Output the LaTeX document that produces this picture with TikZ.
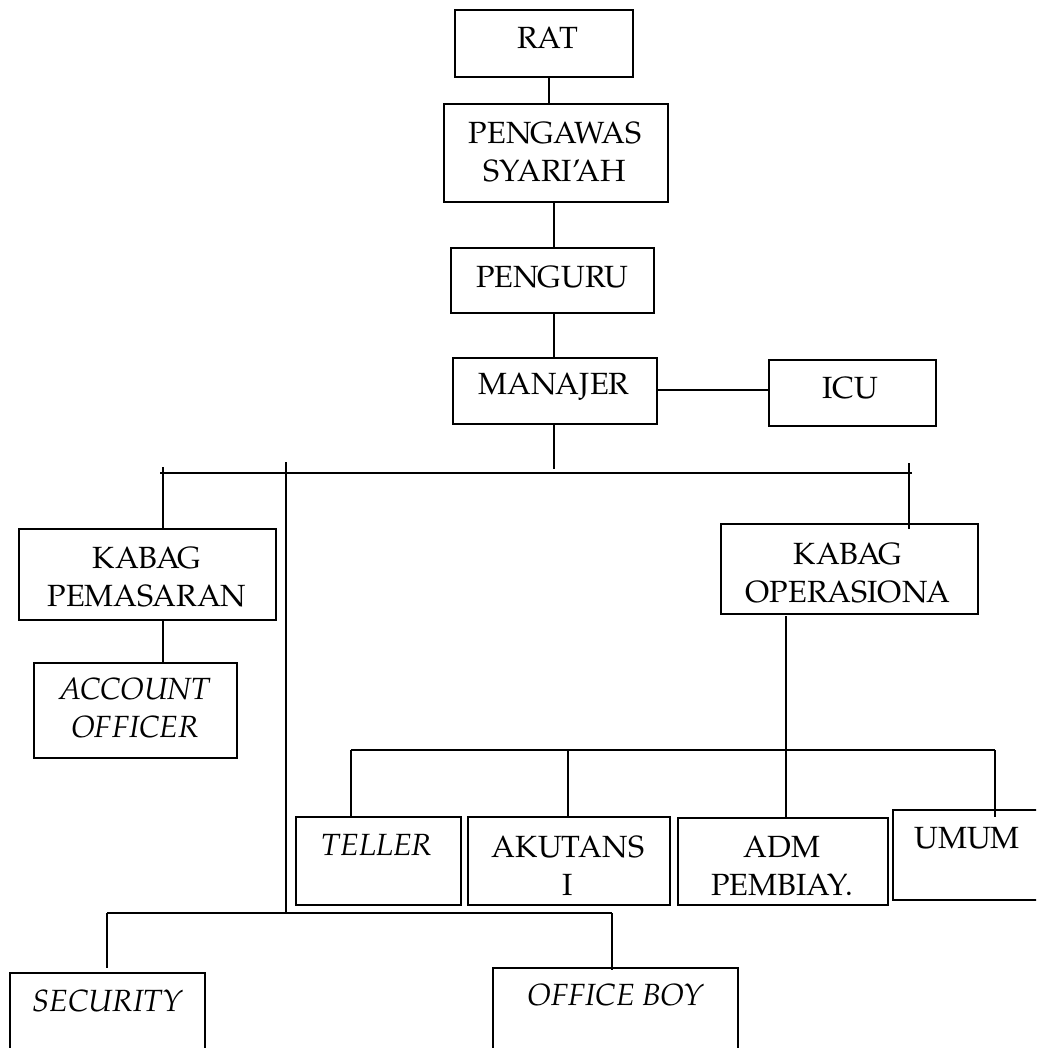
\documentclass[tikz,border=0pt]{standalone}
\usepackage{fontspec}
\setmainfont{TeX Gyre Pagella}
\begin{document}
\begin{tikzpicture}[x=0.75pt,y=-0.75pt,
  boxst/.style={draw=black, line width=1.3pt, inner sep=0pt, rectangle},
  txt/.style={font=\fontsize{23}{28.5}\selectfont, align=center, inner sep=0pt},
  itxt/.style={txt, font=\fontsize{23}{28.5}\selectfont\itshape},
  conn/.style={draw=black, line width=1.3pt}]
\useasboundingbox (0,0) rectangle (1036,1048);
\clip (0,0) rectangle (1036,1048);
\newcommand\bx[5]{\node[boxst, anchor=north west, minimum width={(#4-#2)*0.75pt}, minimum height={(#5-#3)*0.75pt}] (#1) at (#2,#3) {};}
% boxes
\bx{rat}{454}{9}{632}{76}
\bx{pengawas}{443}{103}{667}{201}
\bx{penguru}{450}{247}{653}{312}
\bx{manajer}{452}{357}{656}{423}
\bx{icu}{768}{359}{935}{425}
\bx{kpem}{18}{528}{275}{619}
\bx{ao}{33}{662}{236}{757}
\bx{kop}{720}{523}{977}{613}
\bx{teller}{295}{816}{460}{904}
\bx{akt}{467}{816}{669}{904}
\bx{adm}{677}{817}{887}{904}
\bx{umum}{892}{809}{1045}{899}
\bx{sec}{9}{972}{204}{1060}
\bx{ob}{492}{967}{737}{1060}
% texts
\node[txt] (trat) at (548,38) {RAT};
\node[txt] (tpengawas) at (555,152) {PENGAWAS\\SYARI’AH};
\node[txt] (tpenguru) at (552,277) {PENGURU};
\node[txt] (tmanajer) at (554,387) {MANAJER};
\node[txt] (ticu) at (850,388) {ICU};
\node[txt] (tkpem) at (147,577) {KABAG\\PEMASARAN};
\node[itxt] (tao) at (135,708) {ACCOUNT\\OFFICER};
\node[txt] (tkop) at (848,573) {KABAG\\OPERASIONA};
\node[itxt] (tteller) at (377,845) {TELLER};
\node[txt] (takt) at (568,866) {AKUTANS\\I};
\node[txt] (tadm) at (782,866) {ADM\\PEMBIAY.};
\node[txt] (tumum) at (967,838) {UMUM};
\node[itxt] (tsec) at (108,1001) {SECURITY};
\node[itxt] (tob) at (616,995) {OFFICE BOY};
% junction coordinates
\coordinate (a) at (549,0);
\coordinate (b) at (554,0);
\coordinate (mb) at (554,469);
\coordinate (hl) at (160,473);
\coordinate (hr) at (912,473);
\coordinate (lt) at (163,467);
\coordinate (rt) at (909,463);
\coordinate (re) at (909,529);
\coordinate (vt) at (286,462);
\coordinate (vb) at (286,913);
\coordinate (kp) at (163,0);
\coordinate (ko) at (786,616);
\coordinate (hl2) at (351,750);
\coordinate (hm2) at (568,750);
\coordinate (hr2) at (995,750);
\coordinate (ue) at (995,817);
\coordinate (hl3) at (107,913);
\coordinate (hr3) at (612,913);
\coordinate (se) at (107,968);
\coordinate (oe) at (612,970);
% connectors
\draw[conn] (rat.south -| a) -- (pengawas.north -| a);
\draw[conn] (pengawas.south -| b) -- (penguru.north -| b);
\draw[conn] (penguru.south -| b) -- (manajer.north -| b);
\draw[conn] (manajer.east |- 0,390) -- (icu.west |- 0,390);
\draw[conn] (manajer.south -| b) -- (mb);
\draw[conn] (hl) -- (hr);
\draw[conn] (lt) -- (kpem.north -| lt);
\draw[conn] (rt) -- (re);
\draw[conn] (vt) -- (vb);
\draw[conn] (kpem.south -| kp) -- (ao.north -| kp);
\draw[conn] (ko) -- (adm.north -| ko);
\draw[conn] (hl2) -- (hr2);
\draw[conn] (hl2) -- (teller.north -| hl2);
\draw[conn] (hm2) -- (akt.north -| hm2);
\draw[conn] (hr2) -- (ue);
\draw[conn] (hl3) -- (hr3);
\draw[conn] (hl3) -- (se);
\draw[conn] (hr3) -- (oe);
\end{tikzpicture}
\end{document}
